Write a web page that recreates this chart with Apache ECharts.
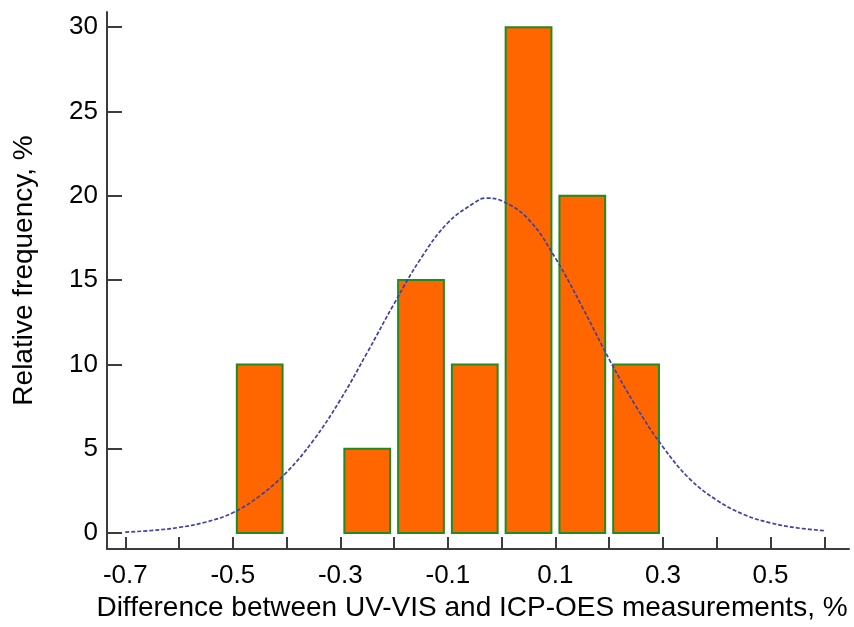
<!DOCTYPE html>
<html>
<head>
<meta charset="utf-8">
<script src="https://cdn.jsdelivr.net/npm/echarts@6/dist/echarts.min.js"></script>
<style>
html,body{margin:0;padding:0;background:#fff;}
#chart{width:854px;height:627px;}
</style>
</head>
<body>
<div id="chart"></div>
<script>
// Histogram bins: [start, end]
const binStarts = [-0.5, -0.3, -0.2, -0.1, 0.0, 0.1, 0.2];
const binEnds   = [-0.4, -0.2, -0.1, 0.0, 0.1, 0.2, 0.3];
const frequencies = [10, 5, 15, 10, 30, 20, 10];

// Fitted normal curve
const curveX = [-0.70,-0.65,-0.60,-0.55,-0.50,-0.45,-0.40,-0.35,-0.30,-0.25,-0.20,-0.15,-0.10,-0.05,-0.03,0.00,0.05,0.10,0.15,0.20,0.25,0.30,0.35,0.40,0.45,0.50,0.55,0.60];
const curveY = [0.05,0.15,0.33,0.65,1.2,2.2,3.6,5.5,7.9,10.7,13.6,16.3,18.4,19.6,19.86,19.7,18.6,16.3,13.4,10.3,7.5,5.1,3.2,1.95,1.1,0.6,0.3,0.14];

// Axis ticks / labels
const xTicks = [-0.7,-0.6,-0.5,-0.4,-0.3,-0.2,-0.1,0.0,0.1,0.2,0.3,0.4,0.5,0.6];
const xLabels = [-0.7,-0.5,-0.3,-0.1,0.1,0.3,0.5];
const yTicks = [0,5,10,15,20,25,30];

const xTitle = 'Difference between UV-VIS and ICP-OES measurements, %';
const yTitle = 'Relative frequency, %';

const barData = binStarts.map((s,i)=>[s, binEnds[i], frequencies[i]]);
const curveData = curveX.map((x,i)=>[x, curveY[i]]);

const FONT = 'Liberation Sans, Arial, sans-serif';
const axisColor = '#3c3c3c';

const chart = echarts.init(document.getElementById('chart'), null, {renderer:'canvas'});
chart.setOption({
  animation: false,
  backgroundColor: '#ffffff',
  grid: {left:107, right:5, top:12, bottom:77, containLabel:false},
  xAxis: {
    type: 'value', min: -0.734, max: 0.646,
    axisLine: {show:true, onZero:false, lineStyle:{color:axisColor, width:2}},
    axisTick: {show:true, inside:true, length:12, customValues: xTicks, lineStyle:{color:axisColor, width:2}},
    axisLabel: {show:true, customValues: xLabels, fontSize:26, fontFamily:FONT, color:'#000', margin:14,
      formatter: v => (Math.round(v*10)/10).toFixed(1)},
    splitLine: {show:false},
    name: xTitle, nameLocation:'middle', nameGap:45,
    nameTextStyle: {fontSize:28, fontFamily:FONT, color:'#000', padding:[0,12,0,0]}
  },
  yAxis: {
    type: 'value', min: -0.95, max: 30.9,
    axisLine: {show:true, onZero:false, lineStyle:{color:axisColor, width:2}},
    axisTick: {show:true, inside:true, length:15, customValues: yTicks, lineStyle:{color:axisColor, width:2}},
    axisLabel: {show:true, customValues: yTicks, fontSize:26, fontFamily:FONT, color:'#000', margin:9},
    splitLine: {show:false},
    name: yTitle, nameLocation:'middle', nameGap:69,
    nameTextStyle: {fontSize:28, fontFamily:FONT, color:'#000', padding:[0,0,0,20]}
  },
  series: [
    {
      type: 'custom',
      data: barData,
      encode: {x:[0,1], y:2},
      z: 2,
      renderItem: function(params, api){
        const p0 = api.coord([api.value(0), 0]);
        const p1 = api.coord([api.value(1), api.value(2)]);
        const inset = 4;
        return {
          type: 'rect',
          shape: {x: p0[0]+inset, y: p1[1], width: (p1[0]-p0[0]) - 2*inset, height: p0[1]-p1[1]},
          style: {fill:'#FF6600', stroke:'#1E8C1E', lineWidth:2}
        };
      }
    },
    {
      type: 'line',
      data: curveData,
      smooth: 0.4,
      symbol: 'none',
      z: 5,
      lineStyle: {color:'#4040A8', width:1.7, type:[4,2]}
    }
  ]
});
</script>
</body>
</html>
